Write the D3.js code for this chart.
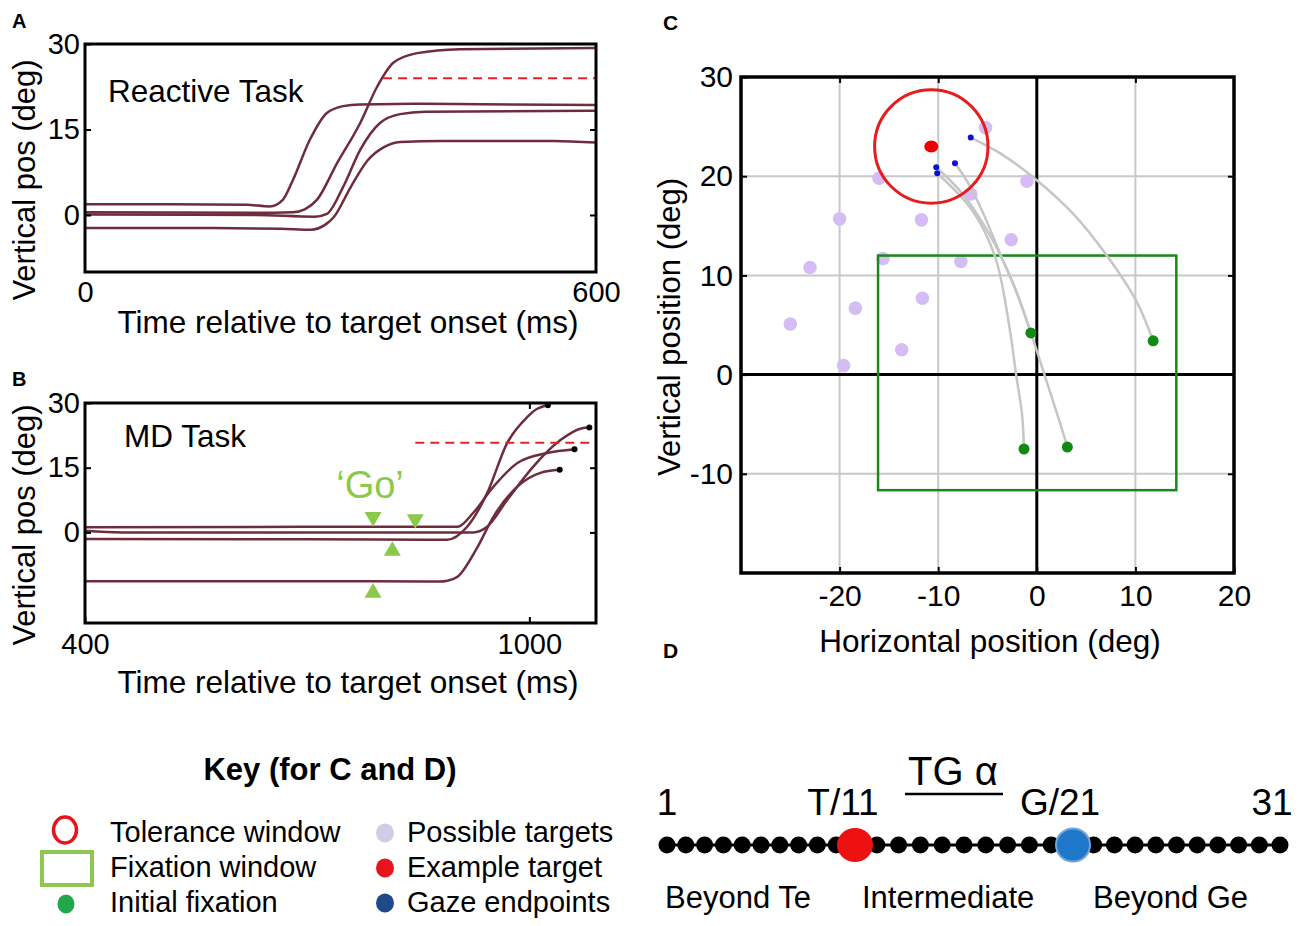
<!DOCTYPE html>
<html>
<head>
<meta charset="utf-8">
<script src="https://cdn.jsdelivr.net/npm/d3@7"></script>
<style>
  body { margin: 0; background: #fff; }
  svg { display: block; font-family: "Liberation Sans", Arial, sans-serif; }
</style>
</head>
<body>
<svg id="fig" width="1300" height="926"></svg>
<script>
// A: reactive task, [time ms, vertical pos deg]
const reactiveTraces = [
  [[0,1.9],[100,1.9],[190,1.8],[217,1.5],[232,2.6],[244,6.1],[264,13.2],[284,17.9],[303,19.1],[323,19.4],[400,19.5],[600,19.3]],
  [[0,0.5],[200,0.4],[244,0.5],[258,1.0],[272,2.6],[296,9.1],[323,16.1],[343,22.5],[362,26.7],[390,28.4],[440,29.1],[600,29.3]],
  [[0,0.1],[200,0.0],[270,-0.3],[284,0.2],[303,4.9],[323,11.4],[346,16.1],[370,17.7],[400,18.1],[600,18.3]],
  [[0,-2.3],[150,-2.3],[230,-2.4],[265,-2.6],[283,-1.6],[292,-0.4],[312,4.9],[332,9.6],[351,11.9],[370,12.8],[420,13.0],[550,13.0],[600,12.7]]
];
const reactiveTarget = [[350,24],[600,24]];

// B: memory-delay task
const mdTraces = [
  [[400,-1.5],[700,-1.6],[860,-1.7],[889,-1.7],[916,1.3],[943,9.1],[970,20.7],[997,26.7],[1010,28.6],[1025,29.5]],
  [[400,1.2],[700,1.3],[880,1.3],[903,1.3],[924,4.5],[951,10.5],[984,16.1],[1024,18.4],[1061,19.3]],
  [[400,0.4],[450,0],[700,0],[924,0],[943,1.3],[970,7.5],[1005,15.2],[1042,21.4],[1070,24.1],[1081,24.3]],
  [[400,-11.3],[700,-11.3],[880,-11.4],[889,-11.2],[903,-10.3],[930,-3.4],[951,3.5],[983,10.5],[1015,13.8],[1041,14.5]]
];
const mdTarget = [[846,20.8],[1090,20.8]];
const goMarkers = [
  {t: 789, pos: 3.6, dir: "down"},
  {t: 846, pos: 3.1, dir: "down"},
  {t: 815, pos: -4.3, dir: "up"},
  {t: 789, pos: -14.0, dir: "up"}
];

// C: target layout, deg
const possibleTargets = [
  [-16.0,19.8],[-20.0,15.7],[-11.7,15.6],[-23.0,10.8],[-15.6,11.7],[-7.7,11.4],[-18.4,6.7],[-11.6,7.7],
  [-25.0,5.1],[-6.7,18.2],[-5.2,24.9],[-1.0,19.5],[-2.6,13.6],[-13.7,2.5],[-19.6,0.9]
];
const exampleTarget = [-10.7, 23.0];
const toleranceRadius = 5.75;
const fixationWindow = {x0: -16.1, x1: 14.15, y0: -11.65, y1: 12.0};
const gazePaths = [
  [[11.8,3.4],[10.1,7.4],[7.1,12.0],[3.7,16.2],[0,19.6],[-3.7,22.3],[-6.7,23.9]],
  [[-0.6,4.2],[-2.1,8.4],[-3.9,12.6],[-5.4,16.2],[-6.9,19.2],[-8.3,21.3]],
  [[3.1,-7.3],[2.3,-4.7],[1.0,-0.7],[-0.4,3.6],[-2.4,9.2],[-4.9,14.3],[-7.6,18.3],[-10.2,20.9]],
  [[-1.3,-7.5],[-1.5,-4.0],[-2.1,0],[-2.7,4.3],[-4.2,11.8],[-6.5,16.5],[-10.1,20.3]]
];
const xTicksC = [-20,-10,0,10,20];
const yTicksC = [-10,0,10,20,30];
const gridXC = [-20,-10,10];
const gridYC = [-10,10,20];

// key + D
const keyLeft = [
  {label: "Tolerance window", shape: "ring", color: "#e8141c"},
  {label: "Fixation window", shape: "rect", color: "#8ec652"},
  {label: "Initial fixation", shape: "dot", color: "#22a84c"}
];
const keyRight = [
  {label: "Possible targets", color: "#cfcde6"},
  {label: "Example target", color: "#e8141c"},
  {label: "Gaze endpoints", color: "#1f4a8a"}
];
const lineIdx = d3.range(1, 32);
const lineLabels = [{i: 1, text: "1"}, {i: 11, text: "T/11"}, {i: 21, text: "G/21"}, {i: 31, text: "31"}];
const zoneLabels = [{x: 665, text: "Beyond Te"}, {x: 862, text: "Intermediate"}, {x: 1093, text: "Beyond Ge"}];

const svg = d3.select("#fig");
const font = "Liberation Sans, Arial, sans-serif";
const trace = "#6e2c3c";
const plain = d => String(d);

function tidy(g, fs) {
  g.attr("font-family", font);
  g.select(".domain").remove();
  g.selectAll(".tick line").attr("stroke", "#000").attr("stroke-width", 2);
  g.selectAll(".tick text").attr("font-size", fs).attr("fill", "#000");
}

function txt(x, y, s, fs, opts = {}) {
  return svg.append("text").attr("x", x).attr("y", y).attr("font-size", fs)
    .attr("text-anchor", opts.anchor || "start").attr("font-weight", opts.bold ? "bold" : null)
    .attr("fill", opts.fill || "#000").text(s);
}

function yLabel(x, y, s, fs) {
  svg.append("text").attr("transform", `translate(${x},${y}) rotate(-90)`)
    .attr("text-anchor", "middle").attr("font-size", fs).text(s);
}

// ---------- A ----------
const xA = d3.scaleLinear().domain([0, 600]).range([85, 596]);
const yA = d3.scaleLinear().domain([-10, 30]).range([272, 44]);
const lineA = d3.line().x(d => xA(d[0])).y(d => yA(d[1])).curve(d3.curveMonotoneX);

svg.append("g").selectAll("path").data(reactiveTraces).join("path")
  .attr("d", lineA).attr("fill", "none").attr("stroke", trace).attr("stroke-width", 2.5);
svg.append("path").attr("d", d3.line().x(d => xA(d[0])).y(d => yA(d[1]))(reactiveTarget))
  .attr("stroke", "#e8202a").attr("stroke-width", 2).attr("stroke-dasharray", "9,6");

svg.append("g").attr("transform", `translate(${xA(0)},0)`)
  .call(d3.axisLeft(yA).tickValues([0, 15, 30]).tickSize(-6).tickPadding(5).tickFormat(plain)).call(tidy, 29);
svg.append("g").attr("transform", `translate(${xA(600)},0)`)
  .call(d3.axisRight(yA).tickValues([0, 15]).tickSize(-6).tickFormat("")).call(tidy, 29);
svg.append("g").attr("transform", `translate(0,${yA(-10)})`)
  .call(d3.axisBottom(xA).tickValues([0, 600]).tickSize(0).tickPadding(9).tickFormat(plain)).call(tidy, 29);
svg.append("rect").attr("x", xA(0)).attr("y", yA(30)).attr("width", xA(600) - xA(0)).attr("height", yA(-10) - yA(30))
  .attr("fill", "none").attr("stroke", "#000").attr("stroke-width", 3);

txt(108, 102, "Reactive Task", 31.5);
yLabel(35, 180, "Vertical pos (deg)", 31);
txt(348, 333, "Time relative to target onset (ms)", 31.5, {anchor: "middle"});
txt(12, 28, "A", 20, {bold: true});

// ---------- B ----------
const xB = d3.scaleLinear().domain([400, 1090]).range([85, 596]);
const yB = d3.scaleLinear().domain([-21, 30]).range([623, 403]);
const lineB = d3.line().x(d => xB(d[0])).y(d => yB(d[1])).curve(d3.curveMonotoneX);

svg.append("g").selectAll("path").data(mdTraces).join("path")
  .attr("d", lineB).attr("fill", "none").attr("stroke", trace).attr("stroke-width", 2.5);
svg.append("g").selectAll("circle").data(mdTraces.map(t => t[t.length - 1])).join("circle")
  .attr("cx", d => xB(d[0])).attr("cy", d => yB(d[1])).attr("r", 3).attr("fill", "#000");
svg.append("path").attr("d", d3.line().x(d => xB(d[0])).y(d => yB(d[1]))(mdTarget))
  .attr("stroke", "#e8202a").attr("stroke-width", 2).attr("stroke-dasharray", "9,6");

const tri = d3.symbol(d3.symbolTriangle, 125);
svg.append("g").selectAll("path").data(goMarkers).join("path")
  .attr("d", tri)
  .attr("transform", d => `translate(${xB(d.t)},${yB(d.pos)}) rotate(${d.dir === "down" ? 180 : 0})`)
  .attr("fill", "#8cc84b");
txt(370, 498, "\u2018Go\u2019", 38, {anchor: "middle", fill: "#8cc84b"});

svg.append("g").attr("transform", `translate(${xB(400)},0)`)
  .call(d3.axisLeft(yB).tickValues([0, 15, 30]).tickSize(-6).tickPadding(5).tickFormat(plain)).call(tidy, 29);
svg.append("g").attr("transform", `translate(${xB(1090)},0)`)
  .call(d3.axisRight(yB).tickValues([0, 15]).tickSize(-6).tickFormat("")).call(tidy, 29);
svg.append("g").attr("transform", `translate(0,${yB(-21)})`)
  .call(d3.axisBottom(xB).tickValues([400, 1000]).tickSize(-6).tickPadding(10).tickFormat(plain)).call(tidy, 29);
svg.append("g").attr("transform", `translate(0,${yB(30)})`)
  .call(d3.axisTop(xB).tickValues([1000]).tickSize(-6).tickFormat("")).call(tidy, 29);
svg.append("rect").attr("x", xB(400)).attr("y", yB(30)).attr("width", xB(1090) - xB(400)).attr("height", yB(-21) - yB(30))
  .attr("fill", "none").attr("stroke", "#000").attr("stroke-width", 3);

txt(124, 447, "MD Task", 31.5);
yLabel(35, 525, "Vertical pos (deg)", 31);
txt(348, 693, "Time relative to target onset (ms)", 31.5, {anchor: "middle"});
txt(12, 386, "B", 20, {bold: true});

// ---------- C ----------
const xC = d3.scaleLinear().domain([-30, 20]).range([741, 1234]);
const yC = d3.scaleLinear().domain([-20, 30]).range([573, 77]);

const grid = svg.append("g").attr("stroke", "#c8c8c8").attr("stroke-width", 2);
grid.selectAll(".gx").data(gridXC).join("line").attr("class", "gx")
  .attr("x1", d => xC(d)).attr("x2", d => xC(d)).attr("y1", yC(30)).attr("y2", yC(-20));
grid.selectAll(".gy").data(gridYC).join("line").attr("class", "gy")
  .attr("x1", xC(-30)).attr("x2", xC(20)).attr("y1", d => yC(d)).attr("y2", d => yC(d));

svg.append("line").attr("x1", xC(0)).attr("x2", xC(0)).attr("y1", yC(30)).attr("y2", yC(-20))
  .attr("stroke", "#000").attr("stroke-width", 3);
svg.append("line").attr("x1", xC(-30)).attr("x2", xC(20)).attr("y1", yC(0)).attr("y2", yC(0))
  .attr("stroke", "#000").attr("stroke-width", 3);

svg.append("g").selectAll("circle").data(possibleTargets).join("circle")
  .attr("cx", d => xC(d[0])).attr("cy", d => yC(d[1])).attr("r", 6.8).attr("fill", "#d5bcf5");

svg.append("rect").attr("x", xC(fixationWindow.x0)).attr("y", yC(fixationWindow.y1))
  .attr("width", xC(fixationWindow.x1) - xC(fixationWindow.x0))
  .attr("height", yC(fixationWindow.y0) - yC(fixationWindow.y1))
  .attr("fill", "none").attr("stroke", "#178a17").attr("stroke-width", 2.5);

const gazeLine = d3.line().x(d => xC(d[0])).y(d => yC(d[1])).curve(d3.curveCatmullRom.alpha(0.5));
svg.append("g").selectAll("path").data(gazePaths).join("path")
  .attr("d", gazeLine).attr("fill", "none").attr("stroke", "#c6c6c6").attr("stroke-width", 2.5);

svg.append("circle").attr("cx", xC(exampleTarget[0])).attr("cy", yC(exampleTarget[1]))
  .attr("r", xC(toleranceRadius) - xC(0)).attr("fill", "none").attr("stroke", "#e81c1c").attr("stroke-width", 3);
svg.append("ellipse").attr("cx", xC(exampleTarget[0])).attr("cy", yC(exampleTarget[1]))
  .attr("rx", 7).attr("ry", 6).attr("fill", "#ee0000");

svg.append("g").selectAll("circle").data(gazePaths.map(p => p[p.length - 1])).join("circle")
  .attr("cx", d => xC(d[0])).attr("cy", d => yC(d[1])).attr("r", 3).attr("fill", "#0a14d0");
svg.append("g").selectAll("circle").data(gazePaths.map(p => p[0])).join("circle")
  .attr("cx", d => xC(d[0])).attr("cy", d => yC(d[1])).attr("r", 5.5).attr("fill", "#128a12");

svg.append("g").attr("transform", `translate(${xC(-30)},0)`)
  .call(d3.axisLeft(yC).tickValues(yTicksC).tickSize(-6).tickPadding(8).tickFormat(plain)).call(tidy, 30);
svg.append("g").attr("transform", `translate(${xC(20)},0)`)
  .call(d3.axisRight(yC).tickValues([-10, 10, 20]).tickSize(-6).tickFormat("")).call(tidy, 30);
svg.append("g").attr("transform", `translate(0,${yC(-20)})`)
  .call(d3.axisBottom(xC).tickValues(xTicksC).tickSize(-6).tickPadding(12).tickFormat(plain)).call(tidy, 30);
svg.append("g").attr("transform", `translate(0,${yC(30)})`)
  .call(d3.axisTop(xC).tickValues([-20, -10, 10]).tickSize(-6).tickFormat("")).call(tidy, 30);
svg.append("rect").attr("x", xC(-30)).attr("y", yC(30)).attr("width", xC(20) - xC(-30)).attr("height", yC(-20) - yC(30))
  .attr("fill", "none").attr("stroke", "#000").attr("stroke-width", 3.5);

txt(990, 652, "Horizontal position (deg)", 31.5, {anchor: "middle"});
yLabel(680, 327, "Vertical position (deg)", 31);
txt(663, 30, "C", 21, {bold: true});
txt(663, 658, "D", 21, {bold: true});

// ---------- Key ----------
const rowY = d3.scalePoint().domain([0, 1, 2]).range([842, 912]);
txt(330, 780, "Key (for C and D)", 31, {anchor: "middle", bold: true});
keyLeft.forEach((k, i) => {
  const cy = rowY(i) - 10;
  if (k.shape === "ring") {
    svg.append("ellipse").attr("cx", 65).attr("cy", cy - 2).attr("rx", 11.5).attr("ry", 13)
      .attr("fill", "none").attr("stroke", k.color).attr("stroke-width", 3.5);
  } else if (k.shape === "rect") {
    svg.append("rect").attr("x", 42).attr("y", cy - 15).attr("width", 50).attr("height", 33)
      .attr("fill", "none").attr("stroke", k.color).attr("stroke-width", 4);
  } else {
    svg.append("ellipse").attr("cx", 66).attr("cy", cy + 2).attr("rx", 8.5).attr("ry", 9.5).attr("fill", k.color);
  }
  txt(110, rowY(i), k.label, 29);
});
keyRight.forEach((k, i) => {
  svg.append("ellipse").attr("cx", 385).attr("cy", rowY(i) - 9).attr("rx", 9).attr("ry", 9.5).attr("fill", k.color);
  txt(407, rowY(i), k.label, 29);
});

// ---------- D ----------
const xD = d3.scaleLinear().domain([1, 11, 21, 31]).range([667, 855, 1073, 1280]);
const yD = 845;
svg.append("line").attr("x1", xD(1) - 6).attr("x2", xD(31) + 4).attr("y1", yD).attr("y2", yD)
  .attr("stroke", "#000").attr("stroke-width", 3);
svg.append("g").selectAll("circle").data(lineIdx.filter(i => i !== 11 && i !== 21)).join("circle")
  .attr("cx", d => xD(d)).attr("cy", yD).attr("r", 8.5).attr("fill", "#000");
svg.append("ellipse").attr("cx", xD(11)).attr("cy", yD).attr("rx", 18).attr("ry", 17).attr("fill", "#ee1111");
svg.append("ellipse").attr("cx", xD(21)).attr("cy", yD).attr("rx", 17).attr("ry", 16.5)
  .attr("fill", "#1f77c9").attr("stroke", "#72a6d8").attr("stroke-width", 2);

svg.append("g").selectAll("text").data(lineLabels).join("text")
  .attr("x", d => xD(d.i) + (d.i === 11 ? -12 : d.i === 21 ? -13 : d.i === 31 ? -8 : 0))
  .attr("y", 815).attr("text-anchor", "middle").attr("font-size", 37).text(d => d.text);
txt(953, 785, "TG \u03b1", 40, {anchor: "middle"});
svg.append("line").attr("x1", 905).attr("x2", 1003).attr("y1", 794).attr("y2", 794)
  .attr("stroke", "#000").attr("stroke-width", 2.5);
svg.append("g").selectAll("text").data(zoneLabels).join("text")
  .attr("x", d => d.x).attr("y", 908).attr("font-size", 31).text(d => d.text);
</script>
</body>
</html>
